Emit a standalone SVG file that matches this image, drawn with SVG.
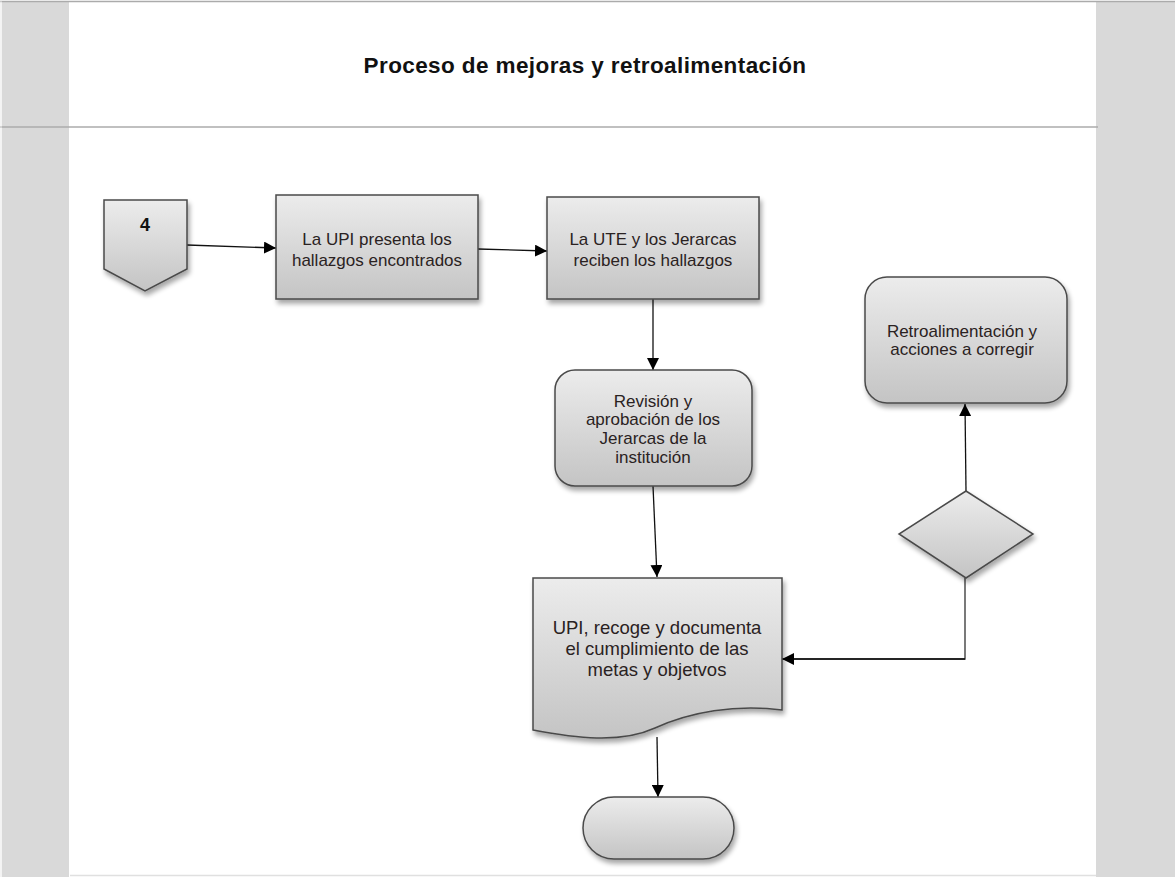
<svg xmlns="http://www.w3.org/2000/svg" width="1175" height="877" viewBox="0 0 1175 877">
  <defs>
    <linearGradient id="shapeFill" x1="0" y1="0" x2="0" y2="1">
      <stop offset="0" stop-color="#ececec"/>
      <stop offset="1" stop-color="#c4c4c4"/>
    </linearGradient>
    <filter id="shadow" x="-10%" y="-10%" width="130%" height="130%">
      <feGaussianBlur in="SourceAlpha" stdDeviation="2.5"/>
      <feOffset dx="2" dy="4" result="b"/>
      <feComponentTransfer><feFuncA type="linear" slope="0.35"/></feComponentTransfer>
      <feMerge><feMergeNode/><feMergeNode in="SourceGraphic"/></feMerge>
    </filter>
    <marker id="arrow" viewBox="0 0 12 12" refX="12" refY="6" markerWidth="12" markerHeight="12" markerUnits="userSpaceOnUse" orient="auto">
      <path d="M0,0 L12,6 L0,12 z" fill="#000"/>
    </marker>
  </defs>
  <style>
    .shape { fill: url(#shapeFill); stroke: #4a4a4a; stroke-width: 1.5; filter: url(#shadow); }
    .label { font-family: "Liberation Sans", Arial, sans-serif; font-size: 17px; fill: #2a2222; text-anchor: middle; }
    .big { font-size: 18.5px; }
    .conn { fill: none; stroke: #111; stroke-width: 1.3; marker-end: url(#arrow); }
    .plain { fill: none; stroke: #333; stroke-width: 1.3; }
    .band { fill: #d9d9d9; }
    .rule { stroke: #ababab; stroke-width: 1.5; }
  </style>

  <!-- page background and side bands -->
  <rect x="0" y="0" width="1175" height="877" fill="#ffffff"/>
  <rect class="band" x="2" y="2" width="67" height="875"/>
  <rect class="band" x="1096" y="2" width="79" height="875"/>
  <line class="rule" x1="0" y1="1.5" x2="1175" y2="1.5"/>
  <line class="rule" x1="0" y1="127" x2="1098" y2="127"/>
  <line x1="70" y1="875.5" x2="1096" y2="875.5" stroke="#e0e0e0" stroke-width="1.5"/>
  <line x1="1" y1="0" x2="1" y2="877" stroke="#e8e8e8" stroke-width="1"/>

  <!-- title -->
  <text x="585" y="73" font-family="Liberation Sans, Arial, sans-serif" font-size="22.5px" font-weight="bold" letter-spacing="0.4" fill="#111" text-anchor="middle">Proceso de mejoras y retroalimentación</text>

  <!-- connectors -->
  <g id="connectors">
    <path class="conn" d="M187,245 L276,248"/>
    <path class="conn" d="M478,249 L547,251"/>
    <path class="conn" d="M653,299 L653,370"/>
    <path class="conn" d="M653,486 L657,577"/>
    <path class="plain" d="M965,578 L965,659 L794,659"/>
    <path class="conn" d="M965,659 L782,659"/>
    <path class="conn" d="M966,491 L965,404"/>
    <path class="conn" d="M657,737 L658,797"/>
  </g>

  <!-- off-page connector -->
  <g id="offpage-4">
    <path class="shape" d="M104,200 L187,200 L187,269 L145,291 L104,269 Z"/>
    <text x="145" y="231" font-family="Liberation Sans, Arial, sans-serif" font-size="18px" font-weight="bold" fill="#111" text-anchor="middle">4</text>
  </g>

  <g id="upi-presenta">
    <rect class="shape" x="276" y="195" width="202" height="104"/>
    <text class="label" x="377" y="245">La UPI  presenta los</text>
    <text class="label" x="377" y="266">hallazgos encontrados</text>
  </g>

  <g id="ute-reciben">
    <rect class="shape" x="547" y="197" width="212" height="102"/>
    <text class="label" x="653" y="245">La UTE y los Jerarcas</text>
    <text class="label" x="653" y="266">reciben los hallazgos</text>
  </g>

  <g id="revision">
    <rect class="shape" x="555" y="370" width="197" height="116" rx="20" ry="20"/>
    <text class="label" x="653" y="407">Revisión y</text>
    <text class="label" x="653" y="425">aprobación de los</text>
    <text class="label" x="653" y="444">Jerarcas de la</text>
    <text class="label" x="653" y="463">institución</text>
  </g>

  <g id="documenta">
    <path class="shape" d="M533,578 L782,578 L782,710 C735,704 690,712 655,728 C620,744 575,738 533,730 Z"/>
    <text class="label big" x="657" y="634">UPI, recoge y documenta</text>
    <text class="label big" x="657" y="655">el cumplimiento de las</text>
    <text class="label big" x="657" y="676">metas y objetvos</text>
  </g>

  <g id="decision">
    <path class="shape" d="M966,491 L1033,534 L966,578 L899,534 Z"/>
  </g>

  <g id="retroalimentacion">
    <rect class="shape" x="865" y="277" width="202" height="126" rx="22" ry="22"/>
    <text class="label" x="962" y="337">Retroalimentación y</text>
    <text class="label" x="962" y="355">acciones a corregir</text>
  </g>

  <g id="fin">
    <rect class="shape" x="583" y="797" width="151" height="62" rx="31" ry="31"/>
  </g>
</svg>
